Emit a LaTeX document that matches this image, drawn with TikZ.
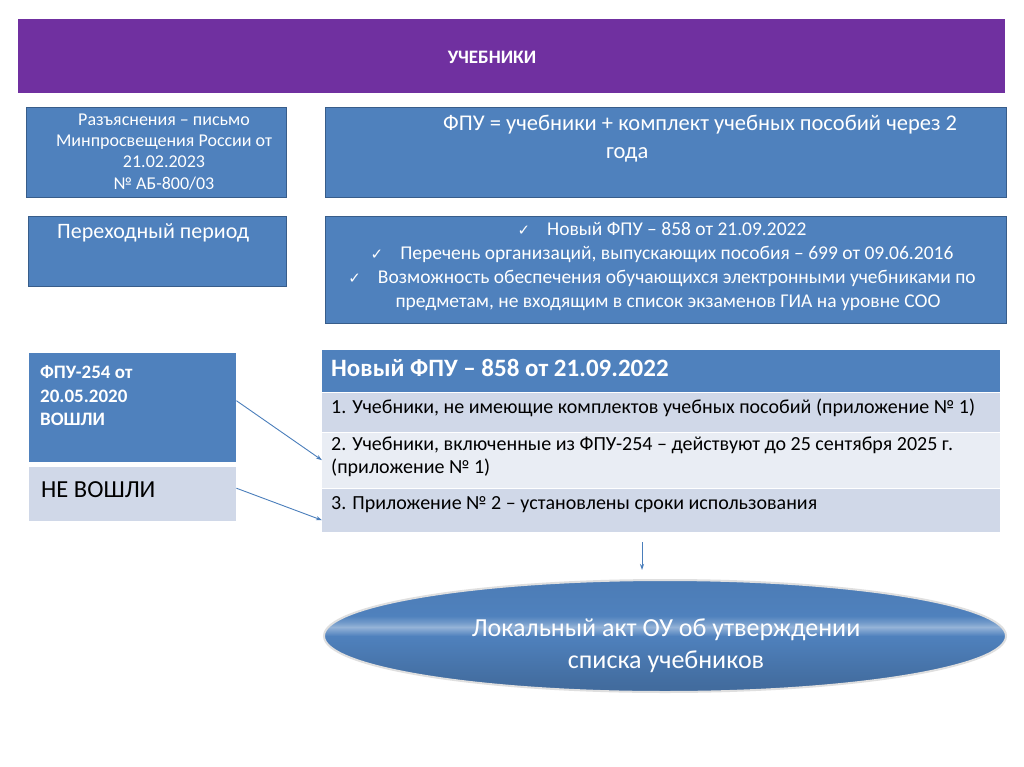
\documentclass[tikz,border=0pt]{standalone}
\usepackage{fontspec}
\setmainfont{Carlito}
\newfontfamily\dejavu{DejaVu Sans}
\usetikzlibrary{shapes.geometric,arrows.meta}
\definecolor{purp}{HTML}{7030A0}
\definecolor{blu}{HTML}{4F81BD}
\definecolor{bluedge}{HTML}{385D8A}
\definecolor{lrow}{HTML}{D0D8E8}
\definecolor{vlrow}{HTML}{E9EDF4}
\definecolor{arr}{HTML}{4A7EBB}
\pgfdeclareverticalshading{ellsh}{100bp}{color(0bp)=(blu!70!black); color(30bp)=(blu!85!black); color(50bp)=(blu); color(54bp)=(blu!60!white); color(56bp)=(blu!80!white); color(59bp)=(blu); color(80bp)=(blu!95!black); color(100bp)=(blu!80!white)}
\newcommand{\ck}{{\dejavu\fontsize{15}{15}\selectfont ✓}\hspace{17pt}}
\begin{document}
\begin{tikzpicture}[x=1pt,y=-1pt,
  box/.style={draw=bluedge, line width=1.2pt, fill=blu, anchor=north west, inner sep=0pt},
  plain/.style={anchor=north west, inner sep=0pt, draw=none},
  wtxt/.style={text=white, inner sep=0pt},
  btxt/.style={text=black, inner sep=0pt},
  conn/.style={draw=arr, line width=0.9pt, -{Stealth[length=6pt,width=4pt]}}]
\useasboundingbox[fill=white] (0,0) rectangle (1024,767);
% banner
\node[plain, fill=purp, minimum width=987pt, minimum height=74pt] (ban) at (18,19) {};
\node[wtxt, font=\bfseries\fontsize{19}{22}\selectfont] (title) at (492,57) {УЧЕБНИКИ};
% top boxes
\node[box, minimum width=260pt, minimum height=90pt] (b1) at (26,107) {};
\node[wtxt, align=center, font=\fontsize{18}{21.2}\selectfont] (t1) at (164,152) {Разъяснения – письмо\\Минпросвещения России от\\21.02.2023\\№ АБ-800/03};
\node[box, minimum width=681pt, minimum height=90pt] (b2) at (325,107) {};
\node[wtxt, anchor=west, align=left, font=\fontsize{22.5}{28}\selectfont] (t2) at (443,139) {ФПУ = учебники + комплект учебных пособий через 2\\\hspace*{163pt}года};
\node[box, minimum width=258pt, minimum height=70pt] (b3) at (28,216) {};
\node[wtxt, anchor=west, font=\fontsize{22}{26}\selectfont] (t3) at (57,233) {Переходный период};
\node[box, minimum width=681pt, minimum height=107pt] (b4) at (325,216) {};
\node[wtxt, align=center, font=\fontsize{19.5}{24}\selectfont] (t4) at (662,266) {\ck Новый ФПУ – 858 от 21.09.2022\\\ck Перечень организаций, выпускающих пособия – 699 от 09.06.2016\\\ck Возможность обеспечения обучающихся электронными учебниками по\\\hspace*{12pt}предметам, не входящим в список экзаменов ГИА на уровне СОО};
% left lower
\node[plain, fill=blu, minimum width=207pt, minimum height=109pt] (f1) at (29,353) {};
\node[wtxt, anchor=west, align=left, font=\bfseries\fontsize{19}{23.5}\selectfont] (tf1) at (40,396) {ФПУ-254 от\\20.05.2020\\ВОШЛИ};
\node[plain, fill=lrow, minimum width=207pt, minimum height=54pt] (f2) at (29,467) {};
\node[btxt, anchor=west, font=\fontsize{24.5}{28}\selectfont] (tf2) at (41,490) {НЕ ВОШЛИ};
% table
\node[plain, fill=blu, minimum width=678pt, minimum height=42pt] (th) at (322,350) {};
\node[wtxt, anchor=west, font=\bfseries\fontsize{25}{28}\selectfont] (tth) at (331,368) {Новый ФПУ – 858 от 21.09.2022};
\node[plain, fill=lrow, minimum width=678pt, minimum height=40pt] (r1) at (322,392) {};
\node[btxt, anchor=west, font=\fontsize{20}{23}\selectfont] (tr1) at (331,408) {1. Учебники, не имеющие комплектов учебных пособий (приложение № 1)};
\node[plain, fill=vlrow, minimum width=678pt, minimum height=56pt] (r2) at (322,432) {};
\node[btxt, anchor=west, align=left, font=\fontsize{20}{23}\selectfont] (tr2) at (331,457) {2. Учебники, включенные из ФПУ-254 – действуют до 25 сентября 2025 г.\\(приложение № 1)};
\node[plain, fill=lrow, minimum width=678pt, minimum height=44pt] (r3) at (322,488) {};
\node[btxt, anchor=west, font=\fontsize{20}{23}\selectfont] (tr3) at (331,505) {3. Приложение № 2 – установлены сроки использования};
\draw[white, line width=1pt] (r1.north west) -- (r1.north east) (r2.north west) -- (r2.north east) (r3.north west) -- (r3.north east);
% connectors
\draw[conn] ([yshift=7pt]f1.east) -- ([yshift=0pt]r2.west);
\draw[conn] ([yshift=6pt]f2.east) -- ([yshift=-10pt]r3.west);
% ellipse
\node[ellipse, shading=ellsh, draw=gray!25, line width=2pt, minimum width=682pt, minimum height=112pt, inner sep=0pt] (ell) at (665,636) {};
\node[wtxt, align=center, font=\fontsize{26}{32}\selectfont] (tell) at (666,646) {Локальный акт ОУ об утверждении\\списка учебников};
\coordinate (d1) at (642,542);
\coordinate (d2) at (642,570);
\draw[conn] (d1) -- (d2);
\end{tikzpicture}
\end{document}
